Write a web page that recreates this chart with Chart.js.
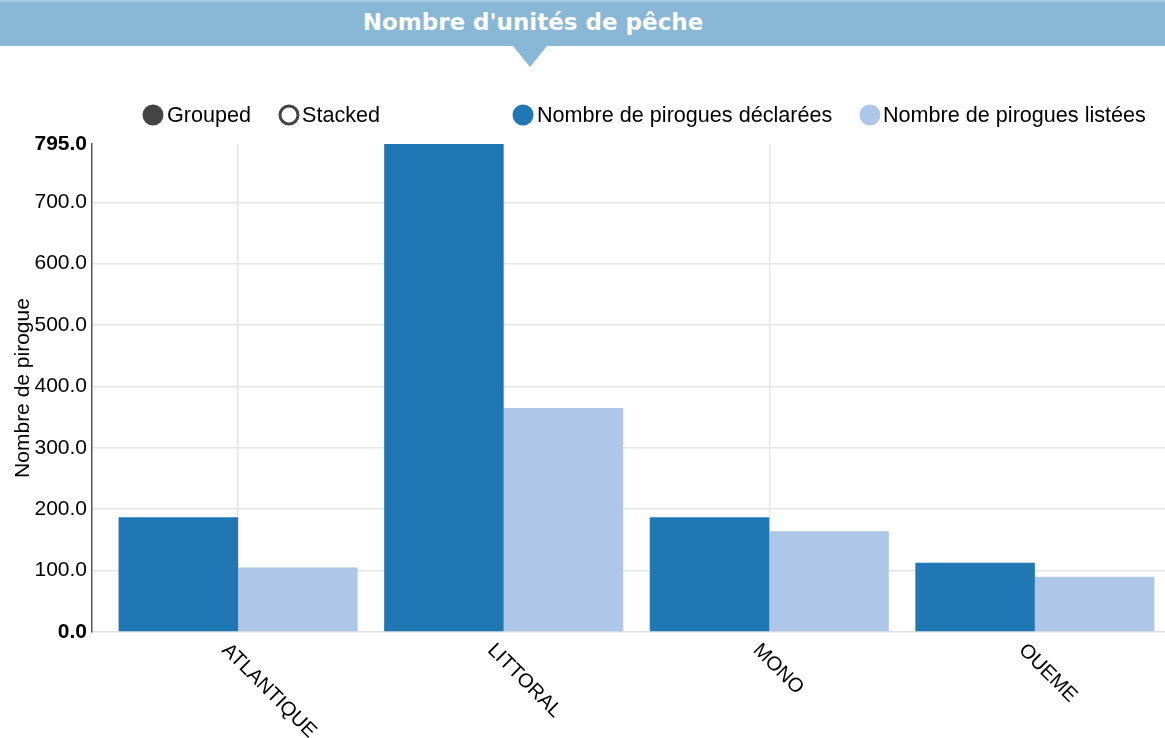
<!DOCTYPE html>
<html>
<head>
<meta charset="utf-8">
<script src="https://cdn.jsdelivr.net/npm/chart.js@4/dist/chart.umd.min.js"></script>
<style>
  html, body { margin: 0; padding: 0; background: #fff; overflow: hidden; }
  #wrap { position: relative; width: 1165px; height: 738px; }
  #header { position: absolute; left: 0; top: 0; width: 1165px; height: 46px; background: #89b7d6;
            border-top: 2px solid #a8cae2; box-sizing: border-box; z-index: 2; }
  #header span { position: absolute; left: 0; width: 1066px; top: 7px; text-align: center; line-height: 42px;
                 color: #fff; font: bold 23px "DejaVu Sans", sans-serif; }
  #header:after { content: ''; position: absolute; left: 513px; top: 44px; border-left: 17px solid transparent;
                  border-right: 17px solid transparent; border-top: 21px solid #89b7d6; }
  #chart { position: absolute; left: 0; top: 0; }
</style>
</head>
<body>
<div id="wrap">
  <div id="header"><span>Nombre d'unités de pêche</span></div>
  <canvas id="chart" width="1165" height="738"></canvas>
</div>
<script>
const categories = ['ATLANTIQUE', 'LITTORAL', 'MONO', 'OUEME'];
const declared = [187, 795, 187, 113];
const listed = [105, 365, 164, 90];
const seriesNames = ['Nombre de pirogues déclarées', 'Nombre de pirogues listées'];
const seriesColors = ['#1f77b4', '#aec7e8'];
const yTicks = [0, 100, 200, 300, 400, 500, 600, 700, 795];
const modeLabels = ['Grouped', 'Stacked'];

const FONT = '"Liberation Sans", Arial, sans-serif';

// x labels rotated clockwise + the nvd3 style legend row
const extrasPlugin = {
    id: 'extras',
    afterDraw(chart) {
        const ctx = chart.ctx;
        const xs = chart.scales.x;
        ctx.save();
        ctx.font = '20px ' + FONT;
        ctx.fillStyle = '#000';
        ctx.textBaseline = 'top';
        categories.forEach((c, i) => {
            const px = xs.getPixelForValue(i);
            ctx.save();
            ctx.translate(px - 6, chart.chartArea.bottom + 8);
            ctx.rotate(Math.PI / 4);
            ctx.fillText(c, 0, 0);
            ctx.restore();
        });

        const legendY = 115;
        const items = [
            { text: modeLabels[0], cx: 153, tx: 167, fill: '#444', stroke: null },
            { text: modeLabels[1], cx: 289, tx: 302, fill: '#fff', stroke: '#444' },
            { text: seriesNames[0], cx: 523, tx: 537, fill: seriesColors[0], stroke: null },
            { text: seriesNames[1], cx: 870, tx: 883, fill: seriesColors[1], stroke: null }
        ];
        ctx.font = '21.6px ' + FONT;
        ctx.textBaseline = 'middle';
        items.forEach(it => {
            ctx.beginPath();
            ctx.arc(it.cx, legendY, it.stroke ? 9 : 10.5, 0, Math.PI * 2);
            ctx.fillStyle = it.fill;
            ctx.fill();
            if (it.stroke) {
                ctx.lineWidth = 3;
                ctx.strokeStyle = it.stroke;
                ctx.stroke();
            }
            ctx.fillStyle = '#000';
            ctx.fillText(it.text, it.tx, legendY + 1);
        });
        ctx.restore();
    }
};

new Chart(document.getElementById('chart'), {
    type: 'bar',
    data: {
        datasets: [
            {
                label: seriesNames[0],
                data: declared.map((v, i) => ({ x: i, y: v })),
                backgroundColor: seriesColors[0]
            },
            {
                label: seriesNames[1],
                data: listed.map((v, i) => ({ x: i, y: v })),
                backgroundColor: seriesColors[1]
            }
        ]
    },
    options: {
        responsive: false,
        animation: false,
        devicePixelRatio: 1,
        layout: { padding: { left: 0, right: 0, top: 144, bottom: 106 } },
        datasets: { bar: { categoryPercentage: 0.9, barPercentage: 1.0 } },
        plugins: { legend: { display: false }, tooltip: { enabled: false } },
        scales: {
            x: {
                type: 'linear',
                offset: false,
                min: -0.55,
                max: 3.49,
                afterBuildTicks: s => { s.ticks = categories.map((c, i) => ({ value: i })); },
                ticks: { display: false },
                grid: {
                    offset: false,
                    drawTicks: false,
                    lineWidth: 1.5,
                    color: c => (c.tick && c.tick.value % 2 === 0) ? '#e6e6e6' : 'rgba(0,0,0,0)'
                },
                border: { color: '#e0e0e0', width: 1.5 }
            },
            y: {
                min: 0,
                max: 795,
                afterBuildTicks: s => { s.ticks = yTicks.map(v => ({ value: v })); },
                afterFit: s => { s.width = 92; },
                ticks: {
                    padding: 5,
                    color: '#000',
                    font: c => ({
                        family: FONT,
                        size: 21,
                        weight: (c.tick && (c.tick.value === 0 || c.tick.value === 795)) ? 'bold' : 'normal'
                    }),
                    callback: v => Number(v).toFixed(1)
                },
                grid: {
                    drawTicks: false,
                    lineWidth: 1.5,
                    color: c => (c.tick && (c.tick.value === 0 || c.tick.value === 795)) ? 'rgba(0,0,0,0)' : '#e6e6e6'
                },
                border: { color: '#555', width: 1.5 },
                title: {
                    display: true,
                    text: 'Nombre de pirogue',
                    color: '#000',
                    font: { family: FONT, size: 21 },
                    padding: { top: 11, bottom: 0 }
                }
            }
        }
    },
    plugins: [extrasPlugin]
});
</script>
</body>
</html>
